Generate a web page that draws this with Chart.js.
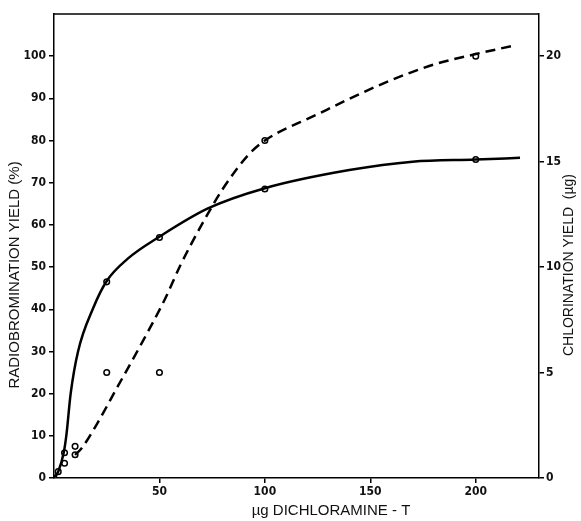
<!DOCTYPE html>
<html>
<head>
<meta charset="utf-8">
<script src="https://cdn.jsdelivr.net/npm/chart.js@4"></script>
<style>
html,body{margin:0;padding:0;background:#fff;}
#wrap{width:581px;height:521px;}
</style>
</head>
<body>
<div id="wrap"><canvas id="c" width="581" height="521"></canvas></div>
<script>
// Solid curve: radiobromination yield (%) – left axis
const bromCurveX = [0, 2, 4.6, 5.9, 7.9, 11.4, 18.6, 25, 35, 50, 73, 100, 140, 170, 200, 221];
const bromCurveY = [0, 1.5, 6, 10.3, 20, 30, 40.3, 46.7, 52, 57.2, 63.9, 68.7, 73, 75, 75.5, 75.9];
// Dashed curve: chlorination yield (µg) – right axis
const chlorCurveX = [10, 13, 20, 30, 40, 52.7, 60, 70, 80, 92, 100, 124, 156, 180, 200, 218];
const chlorCurveY = [1.1, 1.4, 2.5, 4.3, 6.1, 8.5, 10.1, 12.0, 13.7, 15.3, 16, 17.2, 18.7, 19.6, 20.1, 20.5];
// Measured points
const bromPtsX = [0, 2, 5, 25, 50, 100, 200];
const bromPtsY = [0, 1.5, 6, 46.5, 57, 68.5, 75.5];
const chlorPtsX = [5, 10, 10, 25, 50, 100, 200];
const chlorPtsY = [0.7, 1.1, 1.5, 5, 5, 16, 20];
// Tick labels
const xTicks = [50, 100, 150, 200];
const yTicks = [0, 10, 20, 30, 40, 50, 60, 70, 80, 90, 100];
const y2Ticks = [0, 5, 10, 15, 20];

const xy = (xs, ys) => xs.map((x, i) => ({x: x, y: ys[i]}));

const tickFont = {family: "'Liberation Sans Narrow','DejaVu Sans Condensed',sans-serif", size: 12, weight: 'bold'};

const framePlugin = {
  id: 'frame',
  afterDraw(chart) {
    const {ctx, chartArea: a} = chart;
    ctx.save();
    ctx.strokeStyle = '#000';
    ctx.lineWidth = 1.5;
    ctx.beginPath();
    ctx.moveTo(a.left, a.top);
    ctx.lineTo(a.right, a.top);
    ctx.stroke();
    ctx.fillStyle = '#111';
    ctx.textAlign = 'center';
    ctx.textBaseline = 'middle';
    // left title
    ctx.font = "15px 'Liberation Sans',sans-serif";
    ctx.save();
    ctx.translate(15, 275);
    ctx.rotate(-Math.PI / 2);
    ctx.fillText('RADIOBROMINATION YIELD (%)', 0, 0);
    ctx.restore();
    // right title
    ctx.font = "14px 'Liberation Sans',sans-serif";
    ctx.save();
    ctx.translate(569, 265);
    ctx.rotate(-Math.PI / 2);
    ctx.fillText('CHLORINATION YIELD  (µg)', 0, 0);
    ctx.restore();
    // x title
    ctx.font = "15px 'Liberation Sans',sans-serif";
    ctx.fillText('µg DICHLORAMINE - T', 331, 511);
    ctx.restore();
  }
};

new Chart(document.getElementById('c'), {
  type: 'scatter',
  data: {
    datasets: [
      {
        data: xy(bromCurveX, bromCurveY), yAxisID: 'y', showLine: true,
        borderColor: '#000', borderWidth: 2.5, pointRadius: 0, cubicInterpolationMode: 'monotone'
      },
      {
        data: xy(chlorCurveX, chlorCurveY), yAxisID: 'y2', showLine: true,
        borderColor: '#000', borderWidth: 2.5, borderDash: [10, 6], pointRadius: 0, cubicInterpolationMode: 'monotone'
      },
      {
        data: xy(bromPtsX, bromPtsY), yAxisID: 'y', showLine: false,
        pointRadius: 2.8, pointBorderWidth: 1.5, pointBorderColor: '#000', pointBackgroundColor: '#fff'
      },
      {
        data: xy(chlorPtsX, chlorPtsY), yAxisID: 'y2', showLine: false,
        pointRadius: 2.8, pointBorderWidth: 1.5, pointBorderColor: '#000', pointBackgroundColor: '#fff'
      }
    ]
  },
  options: {
    responsive: false,
    animation: false,
    layout: {padding: {top: 14, left: 0, right: 0, bottom: 0}},
    plugins: {legend: {display: false}, tooltip: {enabled: false}},
    scales: {
      x: {
        type: 'linear', min: 0, max: 230,
        afterBuildTicks: s => { s.ticks = xTicks.map(v => ({value: v})); },
        afterFit: s => { s.height = 43; },
        ticks: {color: '#111', font: tickFont, padding: 2},
        grid: {drawOnChartArea: false, drawTicks: true, tickLength: 5, color: '#000', lineWidth: 1.5},
        border: {display: true, color: '#000', width: 1.5}
      },
      y: {
        type: 'linear', position: 'left', min: 0, max: 110,
        afterBuildTicks: s => { s.ticks = yTicks.map(v => ({value: v})); },
        afterFit: s => { s.width = 54; },
        ticks: {color: '#111', font: tickFont, padding: 3},
        grid: {drawOnChartArea: false, drawTicks: true, tickLength: 5, color: '#000', lineWidth: 1.5},
        border: {display: true, color: '#000', width: 1.5}
      },
      y2: {
        type: 'linear', position: 'right', min: 0, max: 22,
        afterBuildTicks: s => { s.ticks = y2Ticks.map(v => ({value: v})); },
        afterFit: s => { s.width = 42; },
        ticks: {color: '#111', font: tickFont, padding: 2},
        grid: {drawOnChartArea: false, drawTicks: true, tickLength: 5, color: '#000', lineWidth: 1.5},
        border: {display: true, color: '#000', width: 1.5}
      }
    }
  },
  plugins: [framePlugin]
});
</script>
</body>
</html>
